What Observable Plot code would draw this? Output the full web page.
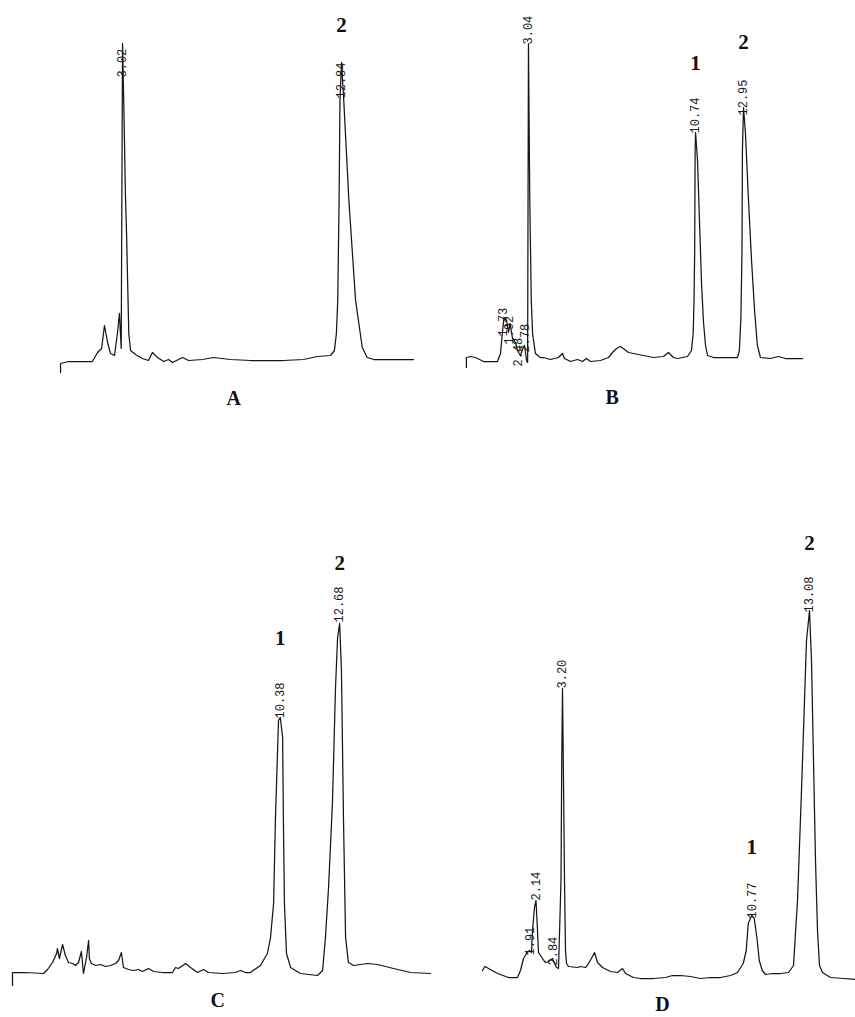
<!DOCTYPE html>
<html><head><meta charset="utf-8">
<script src="https://cdn.jsdelivr.net/npm/d3@7"></script>
<script src="https://cdn.jsdelivr.net/npm/@observablehq/plot@0.6"></script>
<style>
html,body{margin:0;padding:0;background:#fff;}
#fig{position:relative;width:855px;height:1017px;overflow:hidden;background:#fff;}
.panel{position:absolute;}
</style></head><body><div id="fig"></div>
<script>
// ---------- Panel A ----------
const aTime = [0.24,0.24,0.60,1.67,1.90,2.08,2.21,2.35,2.48,2.66,2.79,2.88,2.96,3.02,3.09,3.15,3.20,3.30,3.38,3.60,3.91,4.18,4.36,4.59,4.87,5.08,5.26,5.71,5.98,6.61,7.10,7.86,8.76,10.24,11.13,11.76,12.35,12.52,12.61,12.67,12.73,12.77,12.84,12.94,13.17,13.47,13.77,13.99,14.29,16.07];
const aSignal = [-7,2,4,4,13,17,40,23,12,10,32,52,17,322,245,170,132,32,15,11,7,5,13,8,4,6,3,8,5,6,8,6,5,5,6,9,10,15,32,65,165,265,303,265,165,65,18,8,6,6];
const aLabelTime = [3.02, 12.84];
const aLabelSignal = [288, 267];
const aLabelText = ["3.02", "12.84"];
const aPeakNo = ["2"];
const aPeakNoTime = [12.84];
const aPeakNoSignal = [340];

// ---------- Panel B ----------
const bTime = [0.18,0.18,0.37,0.60,0.97,1.61,1.75,1.84,1.91,2.03,2.12,2.19,2.30,2.44,2.53,2.67,2.76,2.86,2.95,3.00,3.04,3.10,3.17,3.23,3.36,3.59,3.73,4.06,4.42,4.61,4.70,4.98,5.30,5.53,5.71,5.90,6.36,6.73,6.91,7.10,7.28,7.47,7.65,7.88,8.34,8.80,9.26,9.49,9.72,9.91,10.37,10.55,10.63,10.67,10.70,10.72,10.74,10.83,10.92,11.01,11.10,11.20,11.29,11.57,12.21,12.67,12.76,12.83,12.88,12.90,12.95,13.04,13.18,13.32,13.46,13.59,13.73,14.19,14.56,14.88,15.67];
const bSignal = [-2,8,9,8,4,4,12,33,48,45,33,42,28,23,15,10,16,20,5,3,322,165,65,32,12,8,8,6,8,12,7,4,6,4,7,4,5,8,13,17,19,16,13,12,10,8,9,13,8,7,9,15,32,65,115,215,233,205,145,85,45,20,10,8,8,8,15,48,115,215,258,232,165,105,55,20,8,7,9,7,7];
const bLabelTime = [1.89, 2.17, 2.58, 2.90, 3.04, 10.74, 12.95];
const bLabelSignal = [29, 21, -1, 13, 321, 232, 250];
const bLabelText = ["1.73", "1.92", "2.48", "2.78", "3.04", "10.74", "12.95"];
const bPeakNo = ["1", "2"];
const bPeakNoTime = [10.74, 12.95];
const bPeakNoSignal = [302, 323];

// ---------- Panel C ----------
const cTime = [0,0,0.12,0.50,1.20,1.36,1.55,1.71,1.74,1.82,1.94,2.05,2.17,2.33,2.44,2.56,2.67,2.75,2.87,2.95,2.98,3.06,3.22,3.41,3.60,3.80,3.99,4.11,4.22,4.30,4.50,4.69,4.88,5.04,5.27,5.47,5.81,6.20,6.32,6.43,6.71,6.90,7.17,7.40,7.60,8.14,8.64,8.84,9.03,9.22,9.61,9.88,10.00,10.12,10.19,10.27,10.31,10.38,10.47,10.50,10.54,10.62,10.78,11.16,11.82,12.02,12.13,12.25,12.40,12.52,12.60,12.68,12.75,12.83,12.91,13.02,13.22,13.76,14.15,14.77,15.43,16.20];
const cSignal = [-10,3,3,3,2,6,13,22,27,17,31,20,13,12,10,13,24,2,18,35,17,12,10,11,9,10,12,15,23,8,6,5,6,4,7,4,3,3,8,7,12,8,3,6,3,2,3,5,3,3,10,22,38,72,155,222,255,258,238,155,72,22,8,2,0,5,38,88,172,288,338,352,305,155,38,13,10,12,11,7,3,2];
const cLabelTime = [10.38, 12.68];
const cLabelSignal = [257, 353];
const cLabelText = ["10.38", "12.68"];
const cPeakNo = ["1", "2"];
const cPeakNoTime = [10.38, 12.68];
const cPeakNoSignal = [337, 412];

// ---------- Panel D ----------
const dTime = [0.00,0.10,0.60,1.04,1.40,1.52,1.64,1.76,1.88,1.96,2.00,2.08,2.14,2.20,2.24,2.40,2.52,2.64,2.80,2.88,2.96,3.04,3.14,3.17,3.20,3.24,3.28,3.32,3.36,3.44,3.80,3.92,4.12,4.24,4.40,4.48,4.60,4.80,5.12,5.40,5.60,5.72,6.04,6.32,6.84,7.32,7.60,7.92,8.32,8.72,9.12,9.52,9.92,10.20,10.43,10.55,10.63,10.77,10.87,10.99,11.07,11.19,11.32,11.60,11.92,12.24,12.44,12.60,12.76,12.88,12.96,13.08,13.16,13.24,13.32,13.40,13.48,13.60,13.92,14.44,14.92];
const dSignal = [10,14,7,3,3,10,22,27,30,28,50,73,80,50,28,22,18,19,22,17,13,12,100,220,292,200,100,30,17,14,13,14,13,17,24,28,18,13,9,8,12,7,3,2,2,3,5,5,4,2,3,3,5,8,17,30,57,65,62,40,20,10,6,7,7,8,15,80,190,280,340,370,320,220,120,50,15,8,3,2,1];
const dLabelTime = [1.91, 2.14, 2.84, 3.20, 10.77, 13.08];
const dLabelSignal = [25, 80, 15, 292, 62, 368];
const dLabelText = ["1.91", "2.14", "2.84", "3.20", "10.77", "13.08"];
const dPeakNo = ["1", "2"];
const dPeakNoTime = [10.77, 13.08];
const dPeakNoSignal = [133, 437];

// ---------- Panel letters ----------
const panelNames = ["A", "B", "C", "D"];
const panelNameTime = [8.0, 6.9, 7.95, 7.2];
const panelNameSignal = [-33, -32, -25, -24];

// ---------- layout (page pixels) ----------
const layout = [
  {left: 40,  top: 0,   width: 400, height: 420, x0: 54.7, ppm: 22.3, y0: 365},
  {left: 450, top: 0,   width: 405, height: 420, x0: 462,  ppm: 21.7, y0: 365},
  {left: 0,   top: 520, width: 445, height: 497, x0: 12,   ppm: 25.8, y0: 975},
  {left: 460, top: 520, width: 395, height: 497, x0: 482,  ppm: 25.0, y0: 980}
];

const series = [
  [aTime, aSignal, aLabelTime, aLabelSignal, aLabelText, aPeakNo, aPeakNoTime, aPeakNoSignal],
  [bTime, bSignal, bLabelTime, bLabelSignal, bLabelText, bPeakNo, bPeakNoTime, bPeakNoSignal],
  [cTime, cSignal, cLabelTime, cLabelSignal, cLabelText, cPeakNo, cPeakNoTime, cPeakNoSignal],
  [dTime, dSignal, dLabelTime, dLabelSignal, dLabelText, dPeakNo, dPeakNoTime, dPeakNoSignal]
];

const fig = document.getElementById("fig");
series.forEach((sr, k) => {
  const [time, signal, lt, ls, ltx, pn, pnt, pns] = sr;
  const L = layout[k];
  const off = L.x0 - L.left;
  const xDomain = [(0 - off) / L.ppm, (L.width - off) / L.ppm];
  const yDomain = [L.y0 - L.top - L.height, L.y0 - L.top];
  const trace = time.map((t, i) => ({t, s: signal[i]}));
  const labels = lt.map((t, i) => ({t, s: ls[i], text: ltx[i]}));
  const nums = pn.map((n, i) => ({t: pnt[i], s: pns[i], text: n}));
  const letter = [{t: panelNameTime[k], s: panelNameSignal[k], text: panelNames[k]}];
  const svg = Plot.plot({
    width: L.width, height: L.height, margin: 0,
    style: {background: "transparent", overflow: "visible"},
    x: {domain: xDomain, axis: null},
    y: {domain: yDomain, axis: null},
    marks: [
      Plot.line(trace, {x: "t", y: "s", stroke: "#161616", strokeWidth: 1.25, curve: "linear"}),
      Plot.text(labels, {x: "t", y: "s", text: "text", rotate: -90, textAnchor: "start",
        fontFamily: "Liberation Mono, DejaVu Sans Mono, monospace", fontSize: 12, fill: "#1a1a1a",
        ariaLabel: "rt-label"}),
      Plot.text(nums, {x: "t", y: "s", text: "text", fontFamily: "Liberation Serif, serif",
        fontWeight: "bold", fontSize: 21, fill: "#111"}),
      Plot.text(letter, {x: "t", y: "s", text: "text", fontFamily: "Liberation Serif, serif",
        fontWeight: "bold", fontSize: 20, fill: "#111"})
    ]
  });
  svg.querySelectorAll('g[aria-label="rt-label"] text').forEach(e => e.setAttribute("letter-spacing", "1.3"));
  const div = document.createElement("div");
  div.className = "panel";
  div.style.left = L.left + "px";
  div.style.top = L.top + "px";
  div.style.width = L.width + "px";
  div.style.height = L.height + "px";
  div.appendChild(svg);
  fig.appendChild(div);
});
</script>
</body></html>
